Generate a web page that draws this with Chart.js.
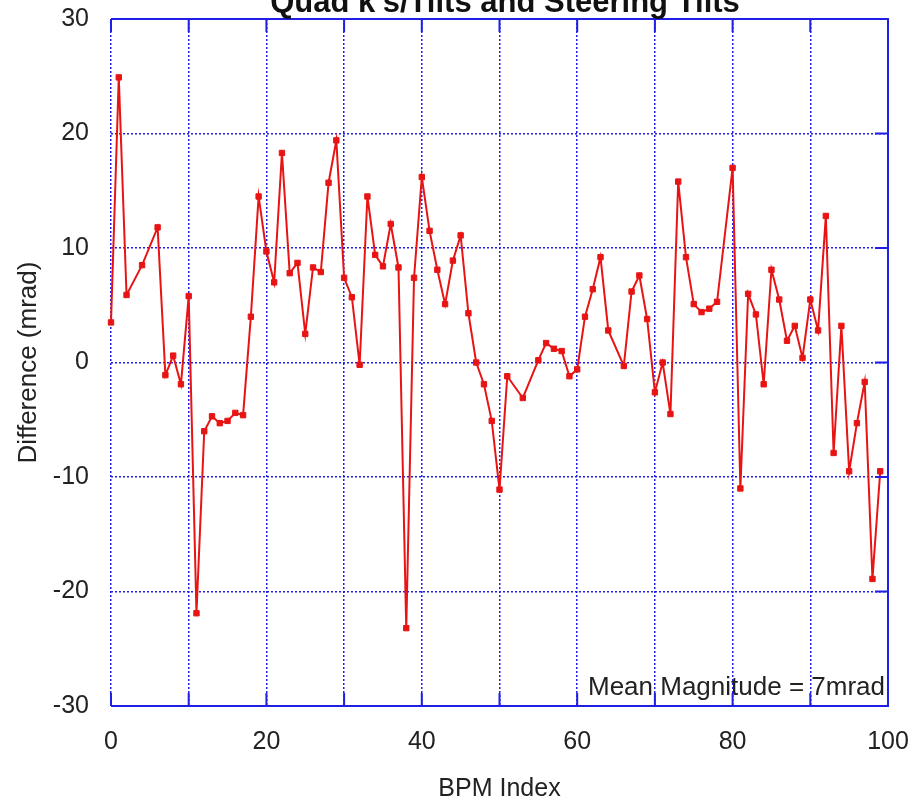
<!DOCTYPE html>
<html>
<head>
<meta charset="utf-8">
<script src="https://cdn.jsdelivr.net/npm/chart.js@4.4.1/dist/chart.umd.min.js"></script>
<style>
  html, body { margin: 0; padding: 0; background: #fff; }
  #wrap { width: 924px; height: 804px; }
</style>
</head>
<body>
<div id="wrap"><canvas id="chart" width="924" height="804"></canvas></div>
<script>
const bpmIndex = [
    0, 1, 2, 4, 6, 7, 8, 9, 10, 11, 12, 13, 14, 15, 16, 17, 18, 19, 20, 21,
    22, 23, 24, 25, 26, 27, 28, 29, 30, 31, 32, 33, 34, 35, 36, 37, 38, 39, 40, 41,
    42, 43, 44, 45, 46, 47, 48, 49, 50, 51, 53, 55, 56, 57, 58, 59, 60, 61, 62, 63,
    64, 66, 67, 68, 69, 70, 71, 72, 73, 74, 75, 76, 77, 78, 80, 81, 82, 83, 84, 85,
    86, 87, 88, 89, 90, 91, 92, 93, 94, 95, 96, 97, 98, 99
];
const difference = [
    3.5, 24.9, 5.9, 8.5, 11.8, -1.1, 0.6, -1.9, 5.8, -21.9, -6.0, -4.7, -5.3, -5.1, -4.4, -4.6, 4.0, 14.5, 9.7, 7.0,
    18.3, 7.8, 8.7, 2.5, 8.3, 7.9, 15.7, 19.4, 7.4, 5.7, -0.2, 14.5, 9.4, 8.4, 12.1, 8.3, -23.2, 7.4, 16.2, 11.5,
    8.1, 5.1, 8.9, 11.1, 4.3, 0.0, -1.9, -5.1, -11.1, -1.2, -3.1, 0.2, 1.7, 1.2, 1.0, -1.2, -0.6, 4.0, 6.4, 9.2,
    2.8, -0.3, 6.2, 7.6, 3.8, -2.6, 0.0, -4.5, 15.8, 9.2, 5.1, 4.4, 4.7, 5.3, 17.0, -11.0, 6.0, 4.2, -1.9, 8.1,
    5.5, 1.9, 3.2, 0.4, 5.5, 2.8, 12.8, -7.9, 3.2, -9.5, -5.3, -1.7, -18.9, -9.5
];
const xTicks = [0, 20, 40, 60, 80, 100];
const yTicks = [-30, -20, -10, 0, 10, 20, 30];

const chartTitle = "Quad k's/Tilts and Steering Tilts";
const note = 'Mean Magnitude = 7mrad';

const blue = '#1f1fe6';
const textColor = '#222';
const fontFamily = '"Liberation Sans", Arial, sans-serif';

// frame with solid top/right/bottom edges and inward ticks, plus the texts
const framePlugin = {
    id: 'frame',
    afterDraw(chart) {
        const { ctx, chartArea: a, scales } = chart;
        ctx.save();
        ctx.strokeStyle = blue;
        ctx.lineWidth = 2;
        ctx.beginPath();
        ctx.moveTo(a.left, a.top);
        ctx.lineTo(a.right, a.top);
        ctx.lineTo(a.right, a.bottom);
        ctx.lineTo(a.left, a.bottom);
        ctx.stroke();

        const tick = 13;
        ctx.beginPath();
        for (let v = 0; v <= 100; v += 10) {
            const px = scales.x.getPixelForValue(v);
            ctx.moveTo(px, a.top);
            ctx.lineTo(px, a.top + tick);
            ctx.moveTo(px, a.bottom);
            ctx.lineTo(px, a.bottom - tick);
        }
        for (let v = -30; v <= 30; v += 10) {
            const py = scales.y.getPixelForValue(v);
            ctx.moveTo(a.right, py);
            ctx.lineTo(a.right - tick, py);
        }
        ctx.stroke();

        ctx.fillStyle = '#111';
        ctx.font = 'bold 31px ' + fontFamily;
        ctx.textAlign = 'center';
        ctx.textBaseline = 'alphabetic';
        ctx.fillText(chartTitle, 505, 12);

        ctx.fillStyle = textColor;
        ctx.font = '26px ' + fontFamily;
        ctx.textAlign = 'right';
        ctx.fillText(note, a.right - 3, 695);
        ctx.restore();
    }
};

const data = {
    datasets: [{
        data: bpmIndex.map((x, i) => ({ x: x, y: difference[i] })),
        showLine: true,
        clip: 10,
        borderColor: '#e81414',
        borderWidth: 2,
        backgroundColor: '#e81414',
        pointStyle: 'rect',
        pointRadius: 3.8,
        pointBorderWidth: 1,
        pointBorderColor: '#e81414',
        pointBackgroundColor: '#e81414',
        tension: 0
    }]
};

const config = {
    type: 'scatter',
    data: data,
    options: {
        responsive: false,
        animation: false,
        layout: {
            padding: { top: 19, right: 36, left: 0, bottom: 0 }
        },
        plugins: {
            legend: { display: false },
            tooltip: { enabled: false }
        },
        scales: {
            x: {
                type: 'linear',
                min: 0,
                max: 100,
                afterFit: (s) => {
                    s.height = 98;
                    s.paddingLeft = 0;
                    s.paddingRight = 0;
                },
                afterBuildTicks: (s) => {
                    s.ticks = [];
                    for (let v = 0; v <= 100; v += 10) s.ticks.push({ value: v });
                },
                ticks: {
                    padding: 21,
                    color: textColor,
                    font: { family: fontFamily, size: 25 },
                    maxRotation: 0,
                    autoSkip: false,
                    callback: (v) => xTicks.includes(v) ? String(v) : ''
                },
                grid: {
                    color: blue,
                    lineWidth: 1.5,
                    drawTicks: false
                },
                border: { display: false, dash: [2, 2] },
                title: {
                    display: true,
                    text: 'BPM Index',
                    color: textColor,
                    font: { family: fontFamily, size: 25 },
                    padding: { top: 0, bottom: 0 }
                }
            },
            y: {
                type: 'linear',
                min: -30,
                max: 30,
                afterFit: (s) => {
                    s.width = 111;
                    s.paddingTop = 0;
                    s.paddingBottom = 0;
                },
                afterBuildTicks: (s) => {
                    s.ticks = yTicks.map((v) => ({ value: v }));
                },
                ticks: {
                    padding: 22,
                    color: textColor,
                    font: { family: fontFamily, size: 25 }
                },
                grid: {
                    color: blue,
                    lineWidth: 1.5,
                    drawTicks: false
                },
                border: { display: false, dash: [2, 2] },
                title: {
                    display: true,
                    text: 'Difference (mrad)',
                    color: textColor,
                    font: { family: fontFamily, size: 26 },
                    padding: { top: 13, bottom: 0 }
                }
            }
        }
    },
    plugins: [framePlugin]
};

new Chart(document.getElementById('chart'), config);
</script>
</body>
</html>
